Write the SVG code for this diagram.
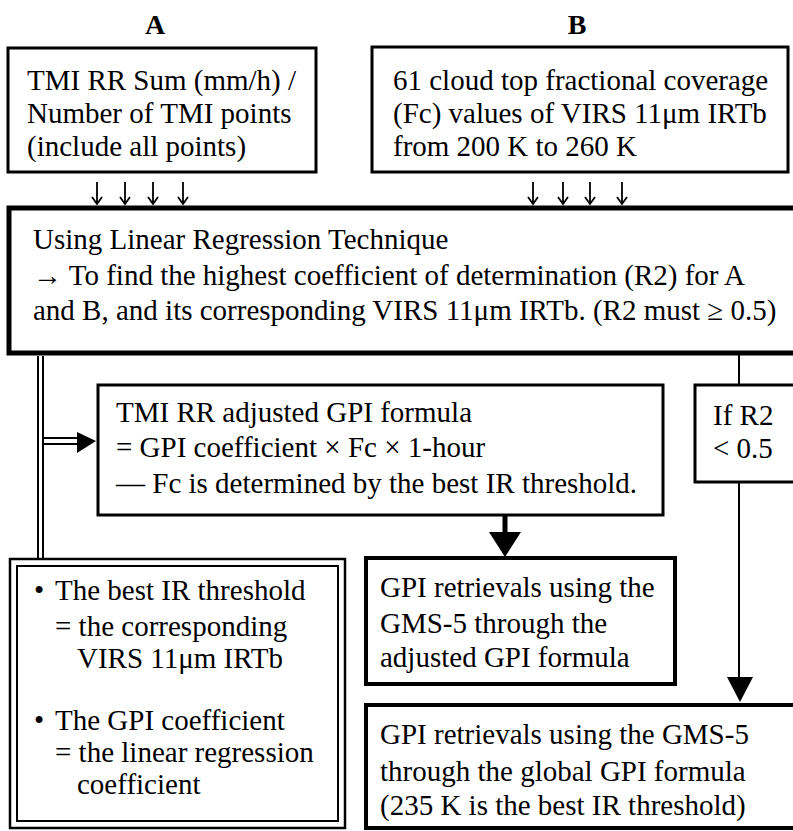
<svg xmlns="http://www.w3.org/2000/svg" width="793" height="831" viewBox="0 0 793 831">
<style>
.t{font-family:"Liberation Serif","Times New Roman",serif;font-size:29px;fill:#000}
.h{font-family:"Liberation Serif","Times New Roman",serif;font-size:28px;font-weight:bold;fill:#000}
.b{fill:#fff;stroke:#000;stroke-width:3}
.bk{fill:#fff;stroke:#000;stroke-width:4}
.ln{fill:none;stroke:#000;stroke-width:2}
.sa{fill:none;stroke:#000;stroke-width:1.8}
.hd{fill:#000;stroke:none}
</style>
<rect width="793" height="831" fill="#fff"/>
<text class="h" x="155" y="34" text-anchor="middle">A</text>
<text class="h" x="577" y="34" text-anchor="middle">B</text>

<g id="boxA">
<rect class="b" x="8" y="48" width="308" height="124"/>
<text class="t" x="27" y="90">TMI RR Sum (mm/h) /</text>
<text class="t" x="27" y="123">Number of TMI points</text>
<text class="t" x="27" y="156">(include all points)</text>
</g>

<g id="boxB">
<rect class="b" x="372" y="47" width="416" height="125"/>
<text class="t" x="393" y="90">61 cloud top fractional coverage</text>
<text class="t" x="393" y="123">(Fc) values of VIRS 11μm IRTb</text>
<text class="t" x="393" y="156">from 200 K to 260 K</text>
</g>

<g id="regression">
<rect x="9" y="208" width="800" height="145" fill="#fff" stroke="#000" stroke-width="5"/>
<text class="t" x="33" y="249">Using Linear Regression Technique</text>
<text class="t" x="33" y="285">→ To find the highest coefficient of determination (R2) for A</text>
<text class="t" x="33" y="320">and B, and its corresponding VIRS 11μm IRTb. (R2 must ≥ 0.5)</text>
</g>

<g id="formula">
<rect class="b" x="98" y="385" width="565" height="130"/>
<text class="t" x="116" y="422">TMI RR adjusted GPI formula</text>
<text class="t" x="116" y="457">= GPI coefficient × Fc × 1-hour</text>
<text class="t" x="116" y="493">— Fc is determined by the best IR threshold.</text>
</g>

<g id="ifR2">
<rect class="b" x="695" y="385" width="110" height="97"/>
<text class="t" x="713" y="425">If R2</text>
<text class="t" x="713" y="458">&lt; 0.5</text>
</g>

<g id="thresholds">
<rect x="10" y="559" width="335" height="269" fill="#fff" stroke="#000" stroke-width="2.5"/>
<rect x="17" y="566" width="321" height="255" fill="none" stroke="#000" stroke-width="2"/>
<text class="t" y="600"><tspan x="34">•</tspan><tspan x="55">The best IR threshold</tspan></text>
<text class="t" x="55" y="636">= the corresponding</text>
<text class="t" x="77" y="668">VIRS 11μm IRTb</text>
<text class="t" y="730"><tspan x="34">•</tspan><tspan x="55">The GPI coefficient</tspan></text>
<text class="t" x="55" y="762">= the linear regression</text>
<text class="t" x="77" y="794">coefficient</text>
</g>

<g id="gpiAdjusted">
<rect class="bk" x="366" y="558" width="309" height="126"/>
<text class="t" x="380" y="597">GPI retrievals using the</text>
<text class="t" x="380" y="633">GMS-5 through the</text>
<text class="t" x="380" y="667">adjusted GPI formula</text>
</g>

<g id="gpiGlobal">
<rect class="bk" x="366" y="705" width="440" height="123"/>
<text class="t" x="380" y="744">GPI retrievals using the GMS-5</text>
<text class="t" x="380" y="781">through the global GPI formula</text>
<text class="t" x="380" y="815">(235 K is the best IR threshold)</text>
</g>

<g id="connectors">
<path class="sa" d="M97 182V204M92 197L97 204L102 197M125 182V204M120 197L125 204L130 197M153 182V204M148 197L153 204L158 197M183 182V204M178 197L183 204L188 197"/>
<path class="sa" d="M533 182V204M528 197L533 204L538 197M563 182V204M558 197L563 204L568 197M590 182V204M585 197L590 204L595 197M622 182V204M617 197L622 204L627 197"/>
<path class="ln" d="M38 356V559M43 356V559"/>
<path class="ln" d="M43 438H80M43 444H80"/>
<polygon class="hd" points="77,432 96,441 77,453"/>
<path d="M505 515V535" fill="none" stroke="#000" stroke-width="5"/>
<polygon class="hd" points="489,532 521,532 505,557"/>
<path class="ln" d="M739 355V385M739 482V680"/>
<polygon class="hd" points="727,677 753,677 740,702"/>
</g>
</svg>
